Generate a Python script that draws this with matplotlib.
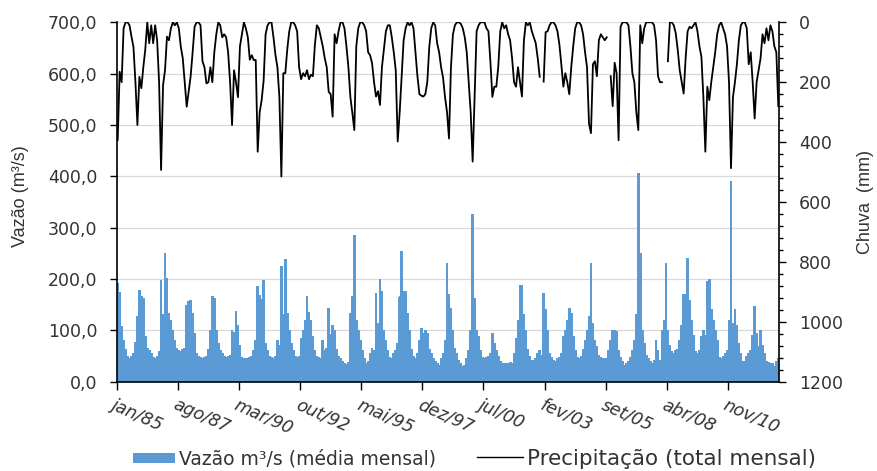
import numpy as np
import matplotlib
matplotlib.use("Agg")
import matplotlib.pyplot as plt
from matplotlib.patches import Patch
from matplotlib.lines import Line2D
from matplotlib.ticker import FuncFormatter, MultipleLocator
import matplotlib.transforms as mtrans

nan = np.nan

# Monthly mean discharge (m3/s), Jan/1985 .. Dec/2012
vazao = [
    191, 173, 107, 81, 63, 50, 45, 50, 55, 76, 127, 178,      # 1985
    165, 162, 88, 65, 60, 55, 48, 45, 50, 58, 197, 130,       # 1986
    250, 201, 133, 120, 100, 81, 65, 60, 58, 62, 65, 149,     # 1987
    156, 159, 133, 94, 55, 50, 48, 45, 47, 50, 62, 100,       # 1988
    165, 162, 100, 75, 60, 55, 50, 48, 50, 52, 100, 95,       # 1989
    136, 110, 70, 48, 46, 45, 46, 48, 50, 60, 80, 185,        # 1990
    168, 160, 198, 75, 60, 50, 48, 45, 50, 81, 70, 225,       # 1991
    130, 238, 133, 100, 75, 60, 50, 48, 50, 84, 100, 120,     # 1992
    165, 135, 120, 88, 60, 50, 48, 45, 81, 60, 65, 143,       # 1993
    91, 110, 100, 62, 50, 45, 40, 35, 33, 38, 133, 165,       # 1994
    284, 120, 100, 81, 60, 45, 35, 40, 55, 65, 60, 172,       # 1995
    114, 200, 175, 100, 81, 60, 48, 45, 55, 60, 75, 165,      # 1996
    253, 175, 175, 133, 100, 62, 50, 45, 55, 80, 104, 94,     # 1997
    100, 94, 62, 55, 45, 40, 35, 32, 45, 55, 80, 230,         # 1998
    169, 143, 100, 65, 55, 42, 35, 30, 32, 45, 60, 100,       # 1999
    325, 162, 100, 88, 60, 48, 45, 48, 50, 55, 94, 75,        # 2000
    60, 50, 39, 35, 35, 35, 35, 38, 35, 55, 84, 120,          # 2001
    188, 188, 130, 100, 62, 50, 42, 42, 45, 55, 60, 52,       # 2002
    172, 140, 100, 55, 48, 42, 40, 45, 48, 55, 88, 100,       # 2003
    120, 143, 133, 88, 60, 48, 45, 50, 62, 80, 100, 127,      # 2004
    230, 114, 80, 68, 52, 48, 45, 45, 45, 60, 80, 100,        # 2005
    100, 97, 60, 48, 40, 32, 35, 40, 48, 60, 80, 130,         # 2006
    405, 250, 100, 75, 52, 45, 40, 35, 42, 81, 60, 42,        # 2007
    100, 120, 230, 100, 70, 58, 55, 60, 62, 80, 110, 169,     # 2008
    169, 240, 159, 120, 90, 58, 55, 60, 88, 100, 90, 195,     # 2009
    199, 140, 120, 100, 80, 48, 45, 50, 55, 60, 120, 390,     # 2010
    114, 140, 110, 75, 55, 39, 40, 50, 55, 60, 90, 146,       # 2011
    94, 68, 100, 70, 55, 40, 38, 35, 35, 29, 39, 45,          # 2012
]

# Monthly total precipitation (mm)
chuva = [
    393, 165, 200, 20, 0, 0, 10, 48, 82, 200, 343, 182,       # 1985
    220, 150, 90, 0, 70, 10, 70, 10, 60, 200, 493, 210,       # 1986
    160, 48, 60, 20, 0, 10, 0, 20, 81, 120, 200, 282,         # 1987
    230, 180, 100, 15, 0, 0, 10, 130, 150, 204, 200, 150,     # 1988
    200, 100, 40, 0, 10, 50, 40, 50, 100, 200, 343, 160,      # 1989
    200, 250, 80, 40, 0, 20, 50, 125, 110, 126, 126, 432,     # 1990
    300, 260, 195, 40, 10, 0, 0, 50, 109, 150, 250, 515,      # 1991
    170, 170, 90, 30, 0, 0, 10, 30, 150, 190, 170, 180,       # 1992
    160, 190, 175, 180, 75, 10, 20, 50, 80, 120, 150, 232,    # 1993
    240, 315, 40, 70, 30, 0, 0, 20, 80, 150, 250, 303,        # 1994
    360, 80, 20, 0, 0, 10, 30, 100, 110, 137, 200, 248,       # 1995
    230, 276, 150, 90, 30, 10, 10, 50, 100, 160, 398, 300,    # 1996
    180, 60, 20, 0, 10, 0, 20, 100, 180, 240, 245, 248,       # 1997
    240, 200, 83, 20, 0, 10, 70, 100, 150, 185, 250, 300,     # 1998
    388, 150, 40, 10, 0, 0, 5, 20, 50, 100, 200, 300,         # 1999
    465, 248, 30, 10, 0, 0, 0, 20, 30, 131, 249, 215,         # 2000
    215, 148, 30, 0, 20, 10, 40, 60, 120, 200, 215, 150,      # 2001
    200, 248, 60, 0, 10, 0, 30, 50, 70, 120, 182, nan,        # 2002
    198, 33, 30, 10, 0, 0, 10, 30, 75, 143, 215, 170,         # 2003
    200, 240, 150, 80, 20, 0, 0, 10, 40, 100, 150, 338,       # 2004
    370, 140, 130, 180, 60, 40, 50, 60, 50, nan, 180, 280,    # 2005
    135, 170, 394, 15, 0, 0, 0, 10, 80, 170, 200, 300,        # 2006
    360, 10, 70, 20, 0, 0, 0, 0, 10, 60, 180, 200,            # 2007
    200, nan, nan, 130, 0, 0, 10, 37, 92, 160, 200, 238,      # 2008
    120, 30, 15, 20, 10, 0, 30, 80, 115, 250, 432, 215,       # 2009
    260, 200, 150, 100, 40, 10, 0, 20, 40, 80, 200, 487,      # 2010
    250, 200, 140, 60, 10, 0, 0, 20, 140, 100, 200, 321,      # 2011
    200, 160, 120, 40, 70, 20, 60, 10, 30, 80, 100, 280,      # 2012
]

tick_labels = ["jan/85", "ago/87", "mar/90", "out/92", "mai/95", "dez/97",
               "jul/00", "fev/03", "set/05", "abr/08", "nov/10"]
tick_step = 31

plt.rcParams['font.family'] = ['Liberation Sans', 'DejaVu Sans']
wide = ['DejaVu Sans']
txt_color = '#333333'

W, H = 878, 471
fig = plt.figure(figsize=(W / 100, H / 100), dpi=100)
ax = fig.add_axes([116.7 / W, 1 - 381.7 / H, (779.3 - 116.7) / W, (381.7 - 22.3) / H])
x = np.arange(len(vazao))

bar_color = '#5B9BD5'
ax.bar(x, vazao, width=0.92, color=bar_color, linewidth=0, antialiased=False,
       snap=False, zorder=2)
ax.set_ylim(0, 700)
ax.set_xlim(-0.5, len(vazao) - 0.5)
ax.yaxis.set_major_locator(MultipleLocator(100))
ax.yaxis.set_major_formatter(FuncFormatter(lambda v, p: f"{v:.1f}".replace('.', ',')))
ax.grid(axis='y', color='#d9d9d9', linewidth=0.9, zorder=0)
ax.set_axisbelow(True)

ax.set_xticks([i * tick_step - 0.5 for i in range(len(tick_labels))])
ax.set_xticklabels(tick_labels, rotation=-24, ha='left', va='top',
                   rotation_mode='anchor', fontstyle='italic', fontsize=12.5,
                   color=txt_color, family=wide)
offset = mtrans.ScaledTranslation(-7 / 100, 0, fig.dpi_scale_trans)
for lab in ax.get_xticklabels():
    lab.set_transform(lab.get_transform() + offset)

ax.tick_params(axis='x', length=6, width=1, direction='out', pad=4)
ax.tick_params(axis='y', length=5, width=1, direction='out', labelsize=12.5,
               labelcolor=txt_color, pad=9)
for lab in ax.get_yticklabels():
    lab.set_family(wide)
for s in ['left', 'bottom']:
    ax.spines[s].set_color('black')
    ax.spines[s].set_linewidth(1.2)
ax.spines['top'].set_visible(False)
ax.spines['right'].set_visible(False)

ax2 = ax.twinx()
ax2.plot(x, chuva, color='black', linewidth=1.3, zorder=3)
ax2.set_ylim(1200, 0)
ax2.yaxis.set_major_locator(MultipleLocator(200))
ax2.yaxis.set_minor_locator(MultipleLocator(40))
ax2.tick_params(axis='y', which='major', length=5, width=1, direction='out',
                labelsize=12.5, labelcolor=txt_color, pad=9)
ax2.tick_params(axis='y', which='minor', length=3, width=1, direction='out')
for lab in ax2.get_yticklabels():
    lab.set_family(wide)
ax2.spines['right'].set_color('black')
ax2.spines['right'].set_linewidth(1.2)
for s in ['top', 'left', 'bottom']:
    ax2.spines[s].set_visible(False)

fig.text(21 / W, 1 - 196 / H, "Vazão (m³/s)", rotation=90, ha='center', va='center',
         fontsize=13, color=txt_color)
fig.text(866 / W, 1 - 202 / H, "Chuva  (mm)", rotation=90, ha='center', va='center',
         fontsize=13, color=txt_color)

leg_y = 1 - 459 / H
fs1, fs2 = 13.5, 15.5
leg1 = fig.legend([Patch(facecolor=bar_color, edgecolor='none')],
                  ["Vazão m³/s (média mensal)"], loc='center left',
                  bbox_to_anchor=(133 / W, leg_y), frameon=False,
                  prop={'family': wide, 'size': fs1},
                  handlelength=42 / (fs1 * 1.389), handleheight=0.45,
                  handletextpad=0.2, borderpad=0, borderaxespad=0, labelcolor=txt_color)
leg2 = fig.legend([Line2D([0], [0], color='black', linewidth=1.0)],
                  ["Precipitação (total mensal)"], loc='center left',
                  bbox_to_anchor=(477 / W, leg_y), frameon=False,
                  prop={'family': wide, 'size': fs2},
                  handlelength=46 / (fs2 * 1.389), handletextpad=0.2,
                  borderpad=0, borderaxespad=0, labelcolor=txt_color)

fig.savefig("out.png", dpi=100)
